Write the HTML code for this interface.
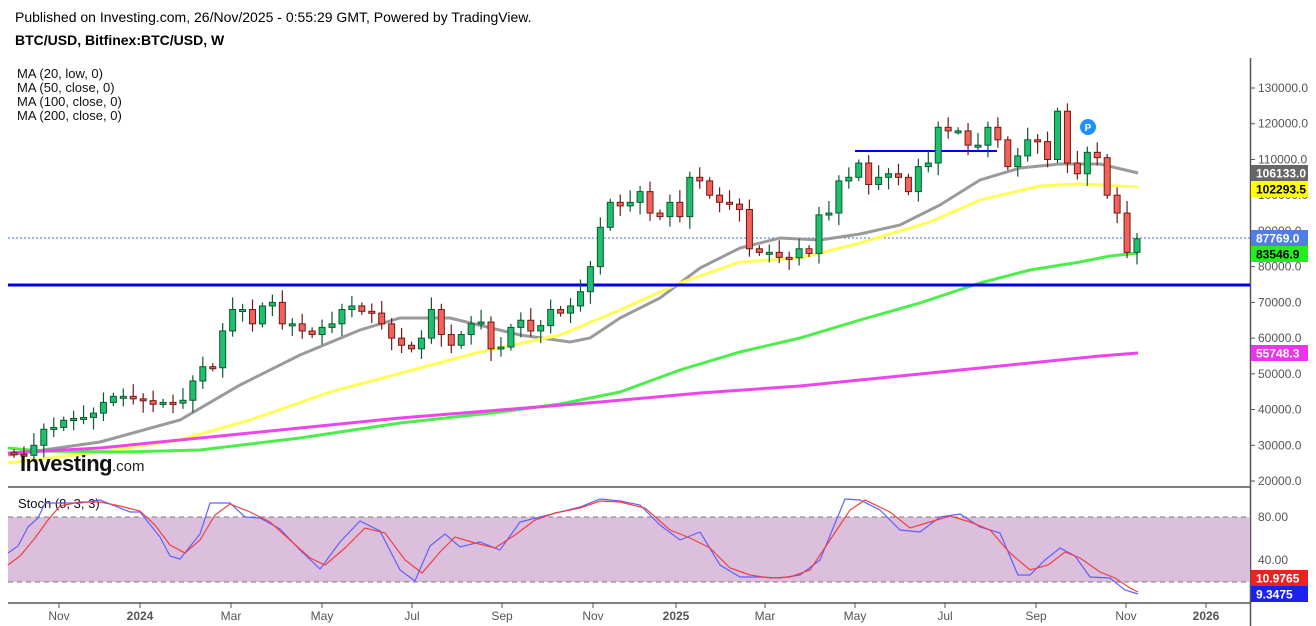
<!DOCTYPE html><html><head><meta charset="utf-8"><style>
body{margin:0;background:#fff;width:1316px;height:626px;overflow:hidden;font-family:"Liberation Sans",sans-serif}
</style></head><body>
<svg id="s" width="1316" height="626" xmlns="http://www.w3.org/2000/svg" style="position:absolute;left:0;top:0">
<rect width="1316" height="626" fill="#fff"/>
<text x="15" y="22" font-size="14" fill="#000">Published on Investing.com, 26/Nov/2025 - 0:55:29 GMT, Powered by TradingView.</text>
<text x="15" y="45" font-size="14" font-weight="bold" fill="#000">BTC/USD, Bitfinex:BTC/USD, W</text>
<g font-size="13" fill="#111"><text x="17" y="78">MA (20, low, 0)</text><text x="17" y="92">MA (50, close, 0)</text><text x="17" y="106">MA (100, close, 0)</text><text x="17" y="120">MA (200, close, 0)</text></g>
<line x1="1250.5" y1="58" x2="1250.5" y2="626" stroke="#555" stroke-width="1.5"/>
<line x1="8" y1="487" x2="1250" y2="487" stroke="#555" stroke-width="1.5"/>
<line x1="8" y1="603" x2="1250" y2="603" stroke="#555" stroke-width="1.5"/>
<g id="ax" font-size="12" fill="#555"></g>
<line x1="8" y1="238" x2="1250" y2="238" stroke="#3b6ee8" stroke-width="1" stroke-dasharray="2,2"/>
<polyline fill="none" stroke="#9a9a9a" stroke-width="3" points="8,455 100,442 180,420 240,385 300,355 360,330 400,318 450,318 520,335 570,342 590,338 620,318 660,298 700,268 740,248 780,238 820,240 860,234 900,225 940,205 980,180 1020,168 1060,164 1100,164 1138,173"/>
<polyline fill="none" stroke="#ffff55" stroke-width="3" points="8,463 100,452 180,440 250,420 330,392 420,368 480,352 560,335 620,310 680,283 740,262 800,258 860,243 930,222 980,200 1040,186 1080,184 1100,185 1138,187"/>
<polyline fill="none" stroke="#4cee4c" stroke-width="3" points="8,448 40,451 120,452 200,450 300,438 400,423 500,412 560,404 620,392 680,370 740,352 800,338 860,320 920,303 980,283 1030,270 1080,262 1110,256 1138,253"/>
<polyline fill="none" stroke="#ee44ee" stroke-width="3" points="8,453 100,448 200,438 300,428 400,418 500,410 600,402 700,393 800,386 900,376 1000,366 1100,356 1138,353"/>
<line x1="8" y1="285" x2="1250" y2="285" stroke="#0000ee" stroke-width="3"/>
<line x1="855" y1="151" x2="997" y2="151" stroke="#0000ee" stroke-width="2"/>
<g id="cd"></g>
<circle cx="1088" cy="127" r="8" fill="#1e90ff"/><text x="1088" y="131" font-size="10" font-weight="bold" fill="#fff" text-anchor="middle">P</text>
<text x="20" y="471" font-size="22" font-weight="bold" fill="#111" letter-spacing="-0.5">Investing</text><text x="112" y="471" font-size="15" fill="#222">.com</text>
<rect x="8" y="517" width="1242" height="65" fill="#dcbedd"/>
<line x1="8" y1="517" x2="1250" y2="517" stroke="#777" stroke-dasharray="5,4"/>
<line x1="8" y1="582" x2="1250" y2="582" stroke="#777" stroke-dasharray="5,4"/>
<text x="18" y="508" font-size="13" fill="#111">Stoch (8, 3, 3)</text>
<polyline fill="none" stroke="#6060ff" stroke-width="1.2" points="8,553 18,546 28,527 38,518 45,503 60,503 80,503 100,500 130,512 140,512 160,537 170,556 180,559 200,534 210,503 230,503 245,517 260,518 280,529 300,550 320,569 340,542 360,521 380,531 400,570 415,581 430,546 445,534 460,547 480,542 500,550 520,522 540,517 560,512 580,507 600,499 620,501 640,505 660,525 680,540 700,532 720,565 740,577 760,577 780,578 800,575 820,560 845,499 860,500 880,510 900,530 920,532 940,517 960,514 980,527 1000,533 1018,575 1030,575 1045,560 1060,548 1075,556 1090,577 1110,578 1125,590 1138,594"/>
<polyline fill="none" stroke="#f04040" stroke-width="1.2" points="8,565 20,556 35,538 48,520 60,506 80,502 100,502 120,506 140,511 155,525 170,545 185,553 200,540 215,515 230,504 250,512 270,522 290,540 310,558 325,565 345,548 365,528 385,533 405,560 422,573 440,552 455,537 475,543 495,548 515,535 535,520 555,513 580,508 600,501 620,502 645,508 670,530 690,538 710,548 730,568 750,575 770,578 790,577 810,570 830,540 850,510 865,500 890,512 910,528 930,522 950,516 970,522 990,530 1010,553 1030,570 1048,565 1065,552 1080,558 1100,572 1115,578 1130,588 1138,592"/>
<g id="lb" font-size="12"></g>
</svg>
<script>
var NS="http://www.w3.org/2000/svg";
function el(t,a,p,txt){var e=document.createElementNS(NS,t);for(var k in a)e.setAttribute(k,a[k]);if(txt!=null)e.textContent=txt;document.getElementById(p).appendChild(e);return e;}
function Y(p){return 88+(130000-p)*0.003573;}
for(var v=20000;v<=130000;v+=10000){el('text',{x:1258,y:Y(v)+4},'ax',v.toFixed(1));el('line',{x1:1250,x2:1255,y1:Y(v),y2:Y(v),stroke:'#555'},'ax');}
el('text',{x:1258,y:521},'ax','80.00');el('text',{x:1258,y:564},'ax','40.00');
var mx=[[59,'Nov'],[140,'2024'],[231,'Mar'],[322,'May'],[412,'Jul'],[502,'Sep'],[593,'Nov'],[676,'2025'],[765,'Mar'],[855,'May'],[945,'Jul'],[1036,'Sep'],[1126,'Nov'],[1206,'2026']];
mx.forEach(function(m){var b=/^\d/.test(m[1]);el('text',{x:m[0],y:620,'text-anchor':'middle','font-weight':b?'bold':'normal'},'ax',m[1]);el('line',{x1:m[0],x2:m[0],y1:603,y2:608,stroke:'#555'},'ax');});
var c=[27.5,27.2,30,34.5,35,37,37.5,37.8,39,42,43.7,43.7,43,42.5,41.5,42,41.8,42.6,48,52,51.7,62,68,68,64,69,70,64,64,62,61,63,64,68,69,67.5,67,64,60,58,57,60,68,61,58,61,64,64.5,57,57.5,63,65,62,63.5,68,67,69,73,80,91,98,97,98,101,95,94,98,94,105,104,100,98,97.5,96,85,84,84,82.6,82.5,85,83.7,94.5,95,104,105,109,103,105,106,105,101,108,109,119,118,118,114,114,119,115.5,108,111,115.5,115,110,123.5,109,106,112,110.5,100,95,84,87.8];
var n=c.length;
for(var i=0;i<n;i++){var x=14+i*(1123/(n-1)),op=(i==0?27.9:c[i-1]),cl=c[i];var hi=Math.max(op,cl)+1+((i*7)%5)*0.6,lo=Math.min(op,cl)-1-((i*3)%5)*0.6;
var up=cl>=op,col=up?'#1fbf6f':'#f0625a',bd=up?'#0b5a2f':'#6e1a15';
el('line',{x1:x,x2:x,y1:Y(hi*1000),y2:Y(lo*1000),stroke:bd,'stroke-width':1.2},'cd');
var t=Y(Math.max(op,cl)*1000),b=Y(Math.min(op,cl)*1000);if(b-t<2){b=t+2;}
el('rect',{x:x-3,y:t,width:6,height:b-t,fill:col,stroke:bd,'stroke-width':1},'cd');}
var L=[[173,'106133.0','#666','#fff'],[189,'102293.5','#ffff00','#000'],[238,'87769.0','#4f7ee8','#fff'],[254,'83546.9','#22ee22','#000'],[353,'55748.3','#ee33ee','#fff'],[578,'10.9765','#f02020','#fff'],[594,'9.3475','#2020ee','#fff']];
L.forEach(function(l){el('rect',{x:1251,y:l[0]-8,width:57,height:16,fill:l[2]},'lb');el('text',{x:1256,y:l[0]+4.5,fill:l[3],'font-weight':'bold'},'lb',l[1]);});
</script>
</body></html>
